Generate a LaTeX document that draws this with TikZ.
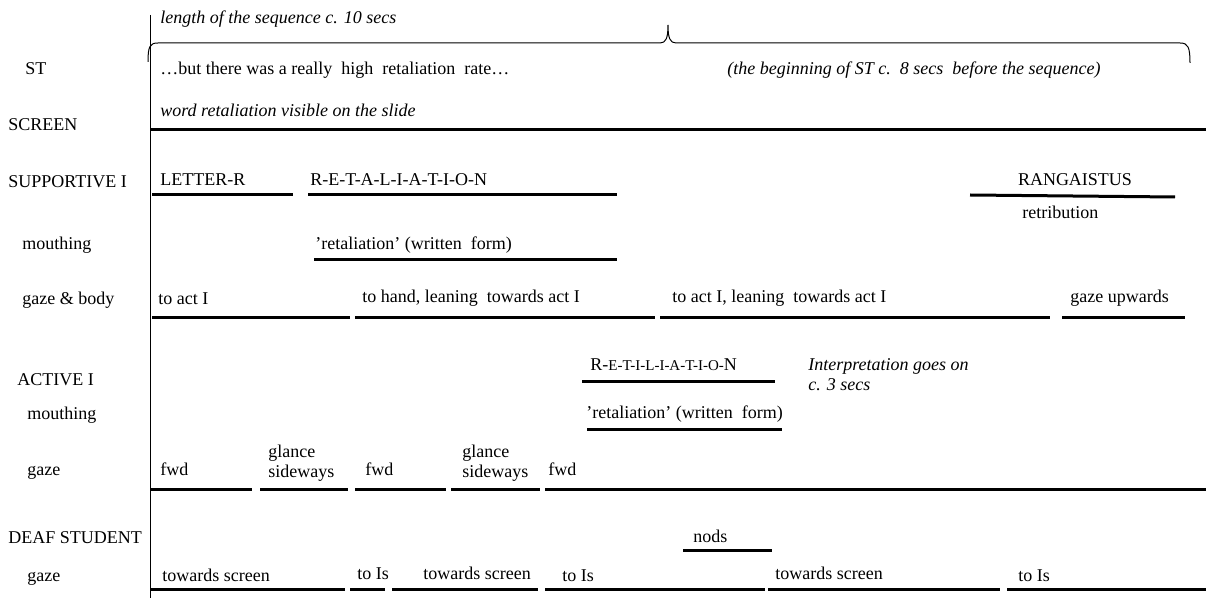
\documentclass[tikz,border=0pt]{standalone}
\usepackage{fontspec}
\setmainfont{Liberation Serif}
\usepackage{tikz}
\tikzset{>=latex}

\begin{document}
\begin{tikzpicture}[x=0.5pt, y=-0.5pt,
    txt/.style={anchor=base west, inner sep=0pt, font=\fontsize{9}{11}\selectfont},
    itxt/.style={txt, font=\fontsize{9}{11}\selectfont\itshape},
    bar/.style={line width=1.5pt},
    thin/.style={line width=0.5pt}]
        \useasboundingbox (0, 0) rectangle (1206, 598);
        \fill[white] (0, 0) rectangle (1206, 598);
        \draw[thin] (150, 15) -- (150, 598);
        \draw[thin] (148, 62) .. controls (148, 46) and (150, 43) .. (158, 43) -- (660, 43)
            .. controls (666, 43) and (668, 38) .. (668, 25)
            .. controls (668, 38) and (670, 43) .. (676, 43) -- (1180, 43)
            .. controls (1188, 43) and (1190, 47) .. (1190, 63);
        \node[itxt] (len) at (160, 24) {length of the sequence c. 10 secs};
        \node[txt] (st) at (25, 75) {ST};
        \node[txt] (stline) at (160, 75) {\ldots but there was a really\ \ high\ \ retaliation\ \ rate\ldots};
        \node[itxt] (stbeg) at (727, 75) {(the beginning of ST c.\ \ 8 secs\ \ before the sequence)};
        \node[itxt] (slide) at (160, 117) {word retaliation visible on the slide};
        \node[txt] (screen) at (8, 131) {SCREEN};
        \draw[bar] (150, 130) -- (1206, 130);

        \node[txt] (sup) at (8, 188) {SUPPORTIVE I};
        \node[txt] (letr) at (160, 186) {LETTER-R};
        \draw[bar] (152, 195) -- (293, 195);
        \node[txt] (retal) at (310, 186) {R-E-T-A-L-I-A-T-I-O-N};
        \draw[bar] (308, 195) -- (617, 195);
        \node[txt, anchor=base] (rang) at (1075, 186) {RANGAISTUS};
        \draw[bar] (970, 195) -- (1175, 197);
        \node[txt] (retri) at (1022, 219) {retribution};
        \node[txt] (smouth) at (22, 250) {mouthing};
        \node[txt] (swrit) at (315, 250) {'retaliation' (written\ \ form)};
        \draw[bar] (314, 260) -- (617, 260);
        \node[txt] (sgaze) at (22, 305) {gaze \& body};
        \node[txt] (sg1) at (158, 305) {to act I};
        \draw[bar] (152, 318) -- (350, 318);
        \node[txt] (sg2) at (362, 303) {to hand, leaning\ \ towards act I};
        \draw[bar] (355, 318) -- (655, 318);
        \node[txt] (sg3) at (672, 303) {to act I, leaning\ \ towards act I};
        \draw[bar] (660, 318) -- (1050, 318);
        \node[txt] (sg4) at (1070, 303) {gaze upwards};
        \draw[bar] (1062, 318) -- (1185, 318);

        \node[txt] (act) at (17, 386) {ACTIVE I};
        \node[txt] (retil) at (590, 371) {R-{\fontsize{7.5}{9}\selectfont E-T-I-L-I-A-T-I-O-}N};
        \draw[bar] (582, 382) -- (775, 382);
        \node[itxt] (interp) at (808, 371) {Interpretation goes on};
        \node[itxt] (secs) at (808, 391) {c. 3 secs};
        \node[txt] (amouth) at (27, 420) {mouthing};
        \node[txt] (awrit) at (586, 419) {'retaliation' (written\ \ form)};
        \draw[bar] (587, 430) -- (782, 430);
        \node[txt] (agaze) at (27, 476) {gaze};
        \node[txt] (ag1) at (160, 476) {fwd};
        \draw[bar] (150, 490) -- (252, 490);
        \node[txt] (ag2a) at (268, 458) {glance};
        \node[txt] (ag2b) at (268, 478) {sideways};
        \draw[bar] (260, 490) -- (348, 490);
        \node[txt] (ag3) at (365, 476) {fwd};
        \draw[bar] (355, 490) -- (446, 490);
        \node[txt] (ag4a) at (462, 458) {glance};
        \node[txt] (ag4b) at (462, 478) {sideways};
        \draw[bar] (451, 490) -- (540, 490);
        \node[txt] (ag5) at (548, 476) {fwd};
        \draw[bar] (545, 490) -- (1206, 490);

        \node[txt] (deaf) at (8, 544) {DEAF STUDENT};
        \node[txt] (nods) at (693, 543) {nods};
        \draw[bar] (683, 551) -- (772, 551);
        \node[txt] (dgaze) at (27, 582) {gaze};
        \node[txt] (dg1) at (162, 582) {towards screen};
        \draw[bar] (150, 590) -- (345, 590);
        \node[txt] (dg2) at (357, 580) {to Is};
        \draw[bar] (350, 590) -- (385, 590);
        \node[txt] (dg3) at (423, 580) {towards screen};
        \draw[bar] (392, 590) -- (538, 590);
        \node[txt] (dg4) at (562, 582) {to Is};
        \draw[bar] (545, 590) -- (765, 590);
        \node[txt] (dg5) at (775, 580) {towards screen};
        \draw[bar] (768, 590) -- (1000, 590);
        \node[txt] (dg6) at (1018, 582) {to Is};
        \draw[bar] (1007, 590) -- (1206, 590);
      \end{tikzpicture}
\end{document}
